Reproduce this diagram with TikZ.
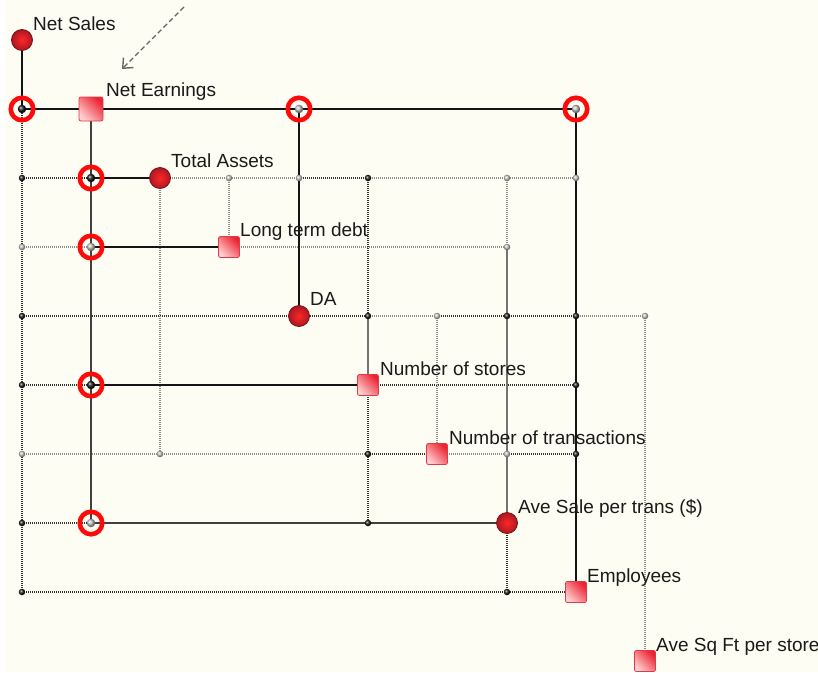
\documentclass[tikz,border=0pt]{standalone}
\usepackage{fontspec}
\setmainfont{Liberation Sans}
\usetikzlibrary{arrows.meta}
\definecolor{bgcream}{HTML}{FDFDF3}
\definecolor{dotdark}{HTML}{333333}
\definecolor{dotlight}{HTML}{8E8E8E}
\definecolor{ringred}{HTML}{FF0A0A}
\definecolor{circfill}{HTML}{D61E2C}
\definecolor{circrim}{HTML}{7A1018}
\definecolor{sqedge}{HTML}{E03A4A}
\definecolor{sqtop}{HTML}{EC2232}
\definecolor{sqbot}{HTML}{FFCFCF}
\definecolor{txt}{HTML}{1A1A1A}
\tikzset{
  dd/.style={dotdark, line width=1.1pt, dash pattern=on 1pt off 1pt},
  dl/.style={dotlight, line width=1.1pt, dash pattern=on 1pt off 1pt},
  solidA/.style={black!92, line width=1.5pt},
  solidB/.style={black!75, line width=2pt},
  solidC/.style={black!55, line width=1.4pt},
  jblack/.style={circle, inner sep=0pt, minimum size=6.5pt, shading=ball, ball color=black!90},
  jgray/.style={circle, inner sep=0pt, minimum size=6.5pt, shading=ball, ball color=black!22},
  ringnode/.style={circle, inner sep=0pt, minimum size=22.5pt, draw=ringred, line width=4.6pt},
  rblack/.style={circle, inner sep=0pt, minimum size=8.5pt, shading=ball, ball color=black!90},
  rgray/.style={circle, inner sep=0pt, minimum size=8.5pt, shading=ball, ball color=black!25},
  circnode/.style={circle, inner sep=0pt, minimum size=21pt, draw=circrim, line width=0.8pt, inner color=red!85!white, outer color=circfill!80!black},
  sqnode/.style={rectangle, rounded corners=2pt, inner sep=0pt, minimum size=21pt, draw=sqedge, line width=0.8pt, top color=sqtop, bottom color=sqbot, shading angle=-45},
  lab/.style={anchor=base west, inner sep=0pt, text=txt, font=\fontsize{19}{22}\selectfont}
}
\begin{document}
\begin{tikzpicture}[x=1pt, y=-1pt]
\useasboundingbox (0,0) rectangle (818,672);
\fill[bgcream] (0,0) rectangle (818,672);
\fill[white] (0,0) rectangle (5,672);
% grid coordinates
\foreach \x [count=\i] in {22,91,160,229,299,368,437,507,576,645}
  \foreach \y [count=\j] in {40,109,178,247,316,385,454,523,592,661}
    \coordinate (g\i-\j) at (\x,\y);
% dotted lines
\draw[dd] (g1-2) -- (g1-9);
\draw[dd] (g1-3) -- (g2-3);
\draw[dl] (g3-3) -- (g5-3);
\draw[dd] (g5-3) -- (g6-3);
\draw[dl] (g6-3) -- (g9-3);
\draw[dl] (g1-4) -- (g2-4);
\draw[dl] (g4-4) -- (g8-4);
\draw[dd] (g1-5) -- (g6-5);
\draw[dl] (g6-5) -- (g7-5);
\draw[dd] (g7-5) -- (g9-5);
\draw[dl] (g9-5) -- (g10-5);
\draw[dd] (g1-6) -- (g2-6);
\draw[dd] (g6-6) -- (g9-6);
\draw[dl] (g1-7) -- (g6-7);
\draw[dd] (g6-7) -- (g7-7);
\draw[dl] (g7-7) -- (g8-7);
\draw[dd] (g8-7) -- (g9-7);
\draw[dd] (g1-8) -- (g2-8);
\draw[dd] (g1-9) -- (g9-9);
\draw[dl] (g3-3) -- (g3-7);
\draw[dl] (g4-3) -- (g4-4);
\draw[dd] (g6-3) -- (g6-5);
\draw[dd] (g6-6) -- (g6-8);
\draw[dl] (g7-5) -- (g7-7);
\draw[dl] (g8-3) -- (g8-4);
\draw[dd] (g8-8) -- (g8-9);
\draw[dl] (g10-5) -- (g10-10);
% solid connectors
\draw[solidA] (g1-1) -- (g1-2);
\draw[solidA] (g1-2) -- (g9-2);
\draw[solidA] (g5-2) -- (g5-5);
\draw[solidA] (g9-2) -- (g9-9);
\draw[solidB] (g2-2) -- (g2-8);
\draw[solidA] (g2-3) -- (g3-3);
\draw[solidA] (g2-4) -- (g4-4);
\draw[solidA] (g2-6) -- (g6-6);
\draw[solidB] (g2-8) -- (g8-8);
\draw[solidC] (g6-5) -- (g6-6);
\draw[solidC] (g8-4) -- (g8-8);
% junction dots
\foreach \p in {1-3,1-5,1-6,1-8,1-9,6-3,6-5,8-5,9-5,9-6,6-7,9-7,6-8,8-9}
  \node[jblack] (j\p) at (g\p) {};
\foreach \p in {4-3,5-3,8-3,9-3,1-4,8-4,7-5,10-5,1-7,3-7,8-7}
  \node[jgray] (j\p) at (g\p) {};
% rings
\foreach \p in {1-2,5-2,9-2,2-3,2-4,2-6,2-8}
  \node[ringnode] (r\p) at (g\p) {};
\foreach \p in {1-2,2-3,2-6}
  \node[rblack] (d\p) at (g\p) {};
\foreach \p in {5-2,9-2,2-4,2-8}
  \node[rgray] (d\p) at (g\p) {};
% main nodes
\node[circnode] (netsales) at (g1-1) {};
\node[sqnode, minimum size=24pt] (netearn) at (g2-2) {};
\node[circnode] (totassets) at (g3-3) {};
\node[sqnode] (ltdebt) at (g4-4) {};
\node[circnode] (da) at (g5-5) {};
\node[sqnode] (nstores) at (g6-6) {};
\node[sqnode] (ntrans) at (g7-7) {};
\node[circnode] (avesale) at (g8-8) {};
\node[sqnode] (employees) at (g9-9) {};
\node[sqnode] (avesqft) at (g10-10) {};
% labels
\node[lab] (lnetsales) at ([shift={(11,-10)}]netsales.center) {Net Sales};
\node[lab] (lnetearn) at ([shift={(15,-13)}]netearn.center) {Net Earnings};
\node[lab] (ltotassets) at ([shift={(11,-11)}]totassets.center) {Total Assets};
\node[lab] (lltdebt) at ([shift={(11,-11)}]ltdebt.center) {Long term debt};
\node[lab] (lda) at ([shift={(11,-11)}]da.center) {DA};
\node[lab] (lnstores) at ([shift={(12,-10)}]nstores.center) {Number of stores};
\node[lab] (lntrans) at ([shift={(12,-10)}]ntrans.center) {Number of transactions};
\node[lab] (lavesale) at ([shift={(11,-10)}]avesale.center) {Ave Sale per trans (\$)};
\node[lab] (lemployees) at ([shift={(11,-10)}]employees.center) {Employees};
\node[lab] (lavesqft) at ([shift={(11,-10)}]avesqft.center) {Ave Sq Ft per store};
% pointer arrow
\coordinate (arrS) at (184,7);
\coordinate (arrE) at (122,69);
\draw[black!60, line width=1.4pt, dash pattern=on 5pt off 3pt, -{Straight Barb[length=8pt,width=14pt]}] (arrS) -- (arrE);
\end{tikzpicture}
\end{document}
